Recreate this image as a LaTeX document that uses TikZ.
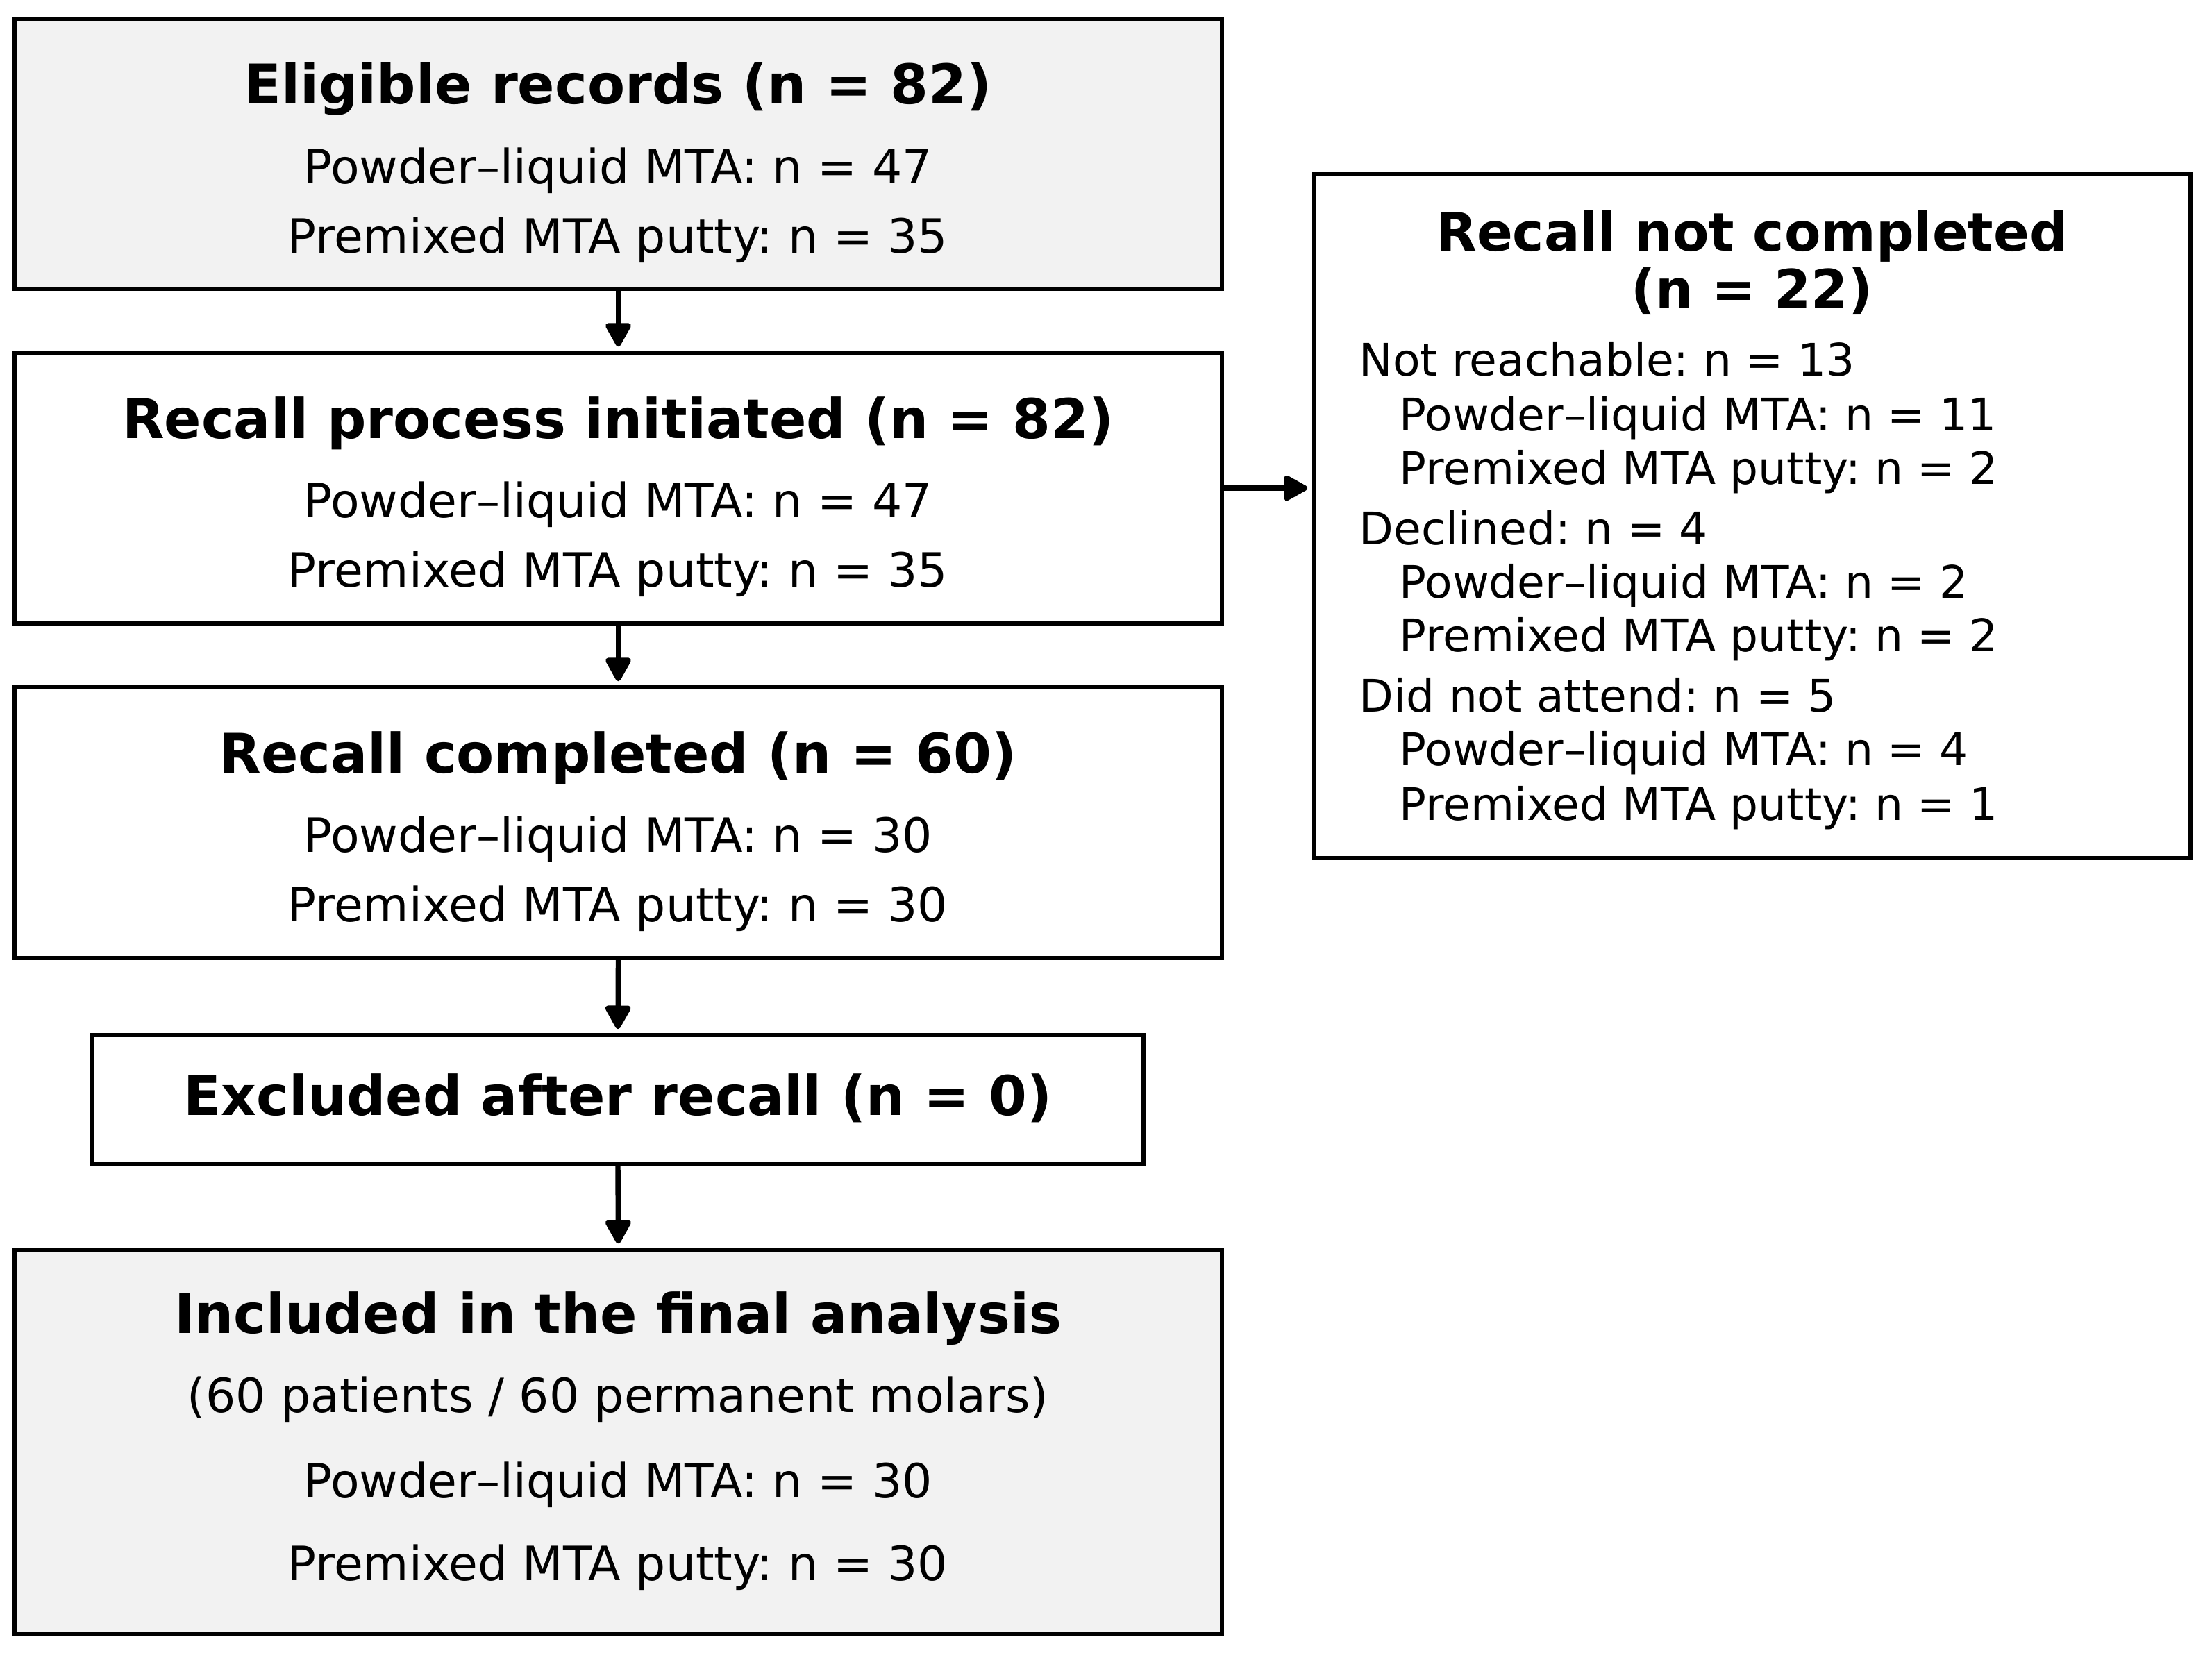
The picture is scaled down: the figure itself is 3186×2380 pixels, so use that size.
\documentclass[tikz,border=0pt]{standalone}
\usepackage{fontspec}
\setmainfont{DejaVu Sans}
\usetikzlibrary{arrows.meta}
\frenchspacing
\definecolor{boxfill}{HTML}{F2F2F2}
\tikzset{
  box/.style={draw=black, line width=1.7pt, rectangle, inner sep=0pt, outer sep=0pt},
  shaded/.style={box, fill=boxfill},
  ttl/.style={anchor=base, inner sep=0pt, font=\fontsize{19.7}{24}\selectfont\bfseries},
  sidettl/.style={anchor=base, inner sep=0pt, font=\fontsize{19.1}{24}\selectfont\bfseries},
  bodytxt/.style={anchor=base, inner sep=0pt, font=\fontsize{17.0}{22}\selectfont},
  sidetxt/.style={anchor=base west, inner sep=0pt, font=\fontsize{16.15}{19}\selectfont},
  arr/.style={line width=1.85pt, line join=round, -{Triangle[length=9.5pt,width=10pt,round]}, shorten >=2.2pt},
}
\begin{document}
\begin{tikzpicture}[x=0.25pt,y=-0.25pt]
\useasboundingbox (0,0) rectangle (3186,2380);
% boxes
\node[shaded, minimum width=434.75pt, minimum height=97.25pt] (b1) at (890.5,221.5) {};
\node[box, minimum width=434.75pt, minimum height=97.5pt] (b2) at (890.5,703) {};
\node[box, minimum width=434.75pt, minimum height=97.5pt] (b3) at (890.5,1185) {};
\node[box, minimum width=378.5pt, minimum height=46.5pt] (b4) at (890,1584) {};
\node[shaded, minimum width=434.75pt, minimum height=138.5pt] (b5) at (890.5,2077) {};
\node[box, minimum width=315.75pt, minimum height=246.25pt] (bR) at (2523.5,743.5) {};
% box 1
\node[ttl] (t1) at (890,149) {Eligible records (n = 82)};
\node[bodytxt] (t1a) at (890,264) {Powder–liquid MTA: n = 47};
\node[bodytxt] (t1b) at (890,364) {Premixed MTA putty: n = 35};
% box 2
\node[ttl] (t2) at (890,631) {Recall process initiated (n = 82)};
\node[bodytxt] (t2a) at (890,745) {Powder–liquid MTA: n = 47};
\node[bodytxt] (t2b) at (890,845) {Premixed MTA putty: n = 35};
% box 3
\node[ttl] (t3) at (890,1113) {Recall completed (n = 60)};
\node[bodytxt] (t3a) at (890,1227) {Powder–liquid MTA: n = 30};
\node[bodytxt] (t3b) at (890,1327) {Premixed MTA putty: n = 30};
% box 4
\node[ttl] (t4) at (890,1606) {Excluded after recall (n = 0)};
% box 5
\node[ttl] (t5) at (890,1920) {Included in the final analysis};
\node[bodytxt] (t5a) at (890,2034) {(60 patients / 60 permanent molars)};
\node[bodytxt] (t5b) at (890,2157) {Powder–liquid MTA: n = 30};
\node[bodytxt] (t5c) at (890,2276) {Premixed MTA putty: n = 30};
% right box
\node[sidettl] (tR1) at (2523,361) {Recall not completed};
\node[sidettl] (tR2) at (2523,443) {(n = 22)};
\node[sidetxt] (r1) at (1957,541) {Not reachable: n = 13};
\node[sidetxt] (r2) at (2015,620) {Powder–liquid MTA: n = 11};
\node[sidetxt] (r3) at (2015,697) {Premixed MTA putty: n = 2};
\node[sidetxt] (r4) at (1957,784) {Declined: n = 4};
\node[sidetxt] (r5) at (2015,861) {Powder–liquid MTA: n = 2};
\node[sidetxt] (r6) at (2015,938) {Premixed MTA putty: n = 2};
\node[sidetxt] (r7) at (1957,1025) {Did not attend: n = 5};
\node[sidetxt] (r8) at (2015,1102) {Powder–liquid MTA: n = 4};
\node[sidetxt] (r9) at (2015,1181) {Premixed MTA putty: n = 1};
% connectors
\draw[arr] (b1.south) -- (b2.north);
\draw[arr] (b2.south) -- (b3.north);
\draw[arr] (b3.south) -- (b4.north);
\draw[arr] (b4.south) -- (b5.north);
\draw[arr] (b2.east) -- (b2.east -| bR.west);
\end{tikzpicture}
\end{document}
